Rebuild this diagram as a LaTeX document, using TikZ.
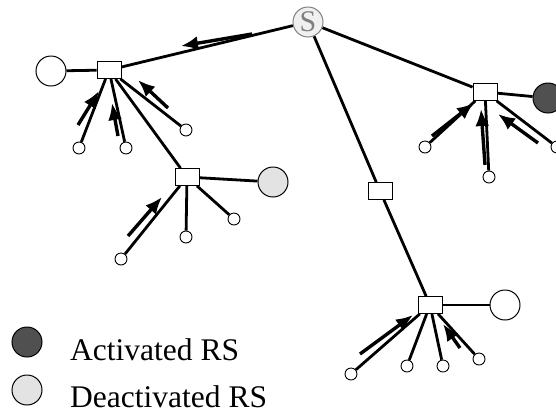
\documentclass[tikz,border=0pt]{standalone}
\usepackage{fontspec}
\setmainfont{Liberation Serif}
\usetikzlibrary{arrows.meta,backgrounds}
\definecolor{actfill}{HTML}{505050}
\definecolor{deactfill}{HTML}{E3E3E3}
\tikzset{
  relay/.style={draw, line width=0.8pt, fill=white, minimum width=24pt, minimum height=17pt, inner sep=0pt},
  rs/.style={circle, draw, line width=1pt, fill=white, minimum size=30pt, inner sep=0pt},
  leaf/.style={circle, draw, line width=0.9pt, fill=white, minimum size=12pt, inner sep=0pt},
  link/.style={line width=2.8pt},
  flow/.style={line width=3.4pt, -{Latex[length=17pt,width=14pt]}},
  legtext/.style={anchor=base west, inner sep=0pt, font=\fontsize{31.5}{31.5}\selectfont}
}
\begin{document}
\begin{tikzpicture}[x=1pt,y=-1pt]
\useasboundingbox (0,0) rectangle (556,416);
\clip (0,0) rectangle (556,416);

% source
\node[circle, draw=gray, fill=gray!12, line width=1pt, minimum size=30pt, inner sep=0pt,
      text=gray, font=\fontsize{30}{30}\selectfont] (S) at (308,22) {S};

% relay boxes
\node[relay] (A) at (109,70) {};
\node[relay] (B) at (187,177) {};
\node[relay] (C) at (485,92) {};
\node[relay] (D) at (380,191) {};
\node[relay] (E) at (430,305) {};

% relay stations
\node[rs] (rA) at (51,71) {};
\node[rs, fill=deactfill] (rB) at (273,182) {};
\node[rs, fill=actfill] (rC) at (548,98) {};
\node[rs] (rE) at (505,305) {};

% users
\node[leaf] (a1) at (79,148) {};
\node[leaf] (a2) at (126,148) {};
\node[leaf] (a3) at (186,130) {};
\node[leaf] (b1) at (121,259) {};
\node[leaf] (b2) at (186,237) {};
\node[leaf] (b3) at (234,219) {};
\node[leaf] (c1) at (425,147) {};
\node[leaf] (c2) at (489,177) {};
\node[leaf] (c3) at (557,147) {};
\node[leaf] (e1) at (351,374) {};
\node[leaf] (e2) at (407,366) {};
\node[leaf] (e3) at (443,366) {};
\node[leaf] (e4) at (479,359) {};

\begin{scope}[on background layer]
  \draw[link] (S) -- (A);
  \draw[link] (S) -- (C);
  \draw[link] (S) -- (D);
  \draw[link] (D) -- (E);
  \draw[link] (A) -- (B);
  \draw[link] (A) -- (rA);
  \draw[link] (B) -- (rB);
  \draw[link] (C) -- (rC);
  \draw[link] (E) -- (rE);
  \draw[link] (A) -- (a1);
  \draw[link] (A) -- (a2);
  \draw[link] (A) -- (a3);
  \draw[link] (B) -- (b1);
  \draw[link] (B) -- (b2);
  \draw[link] (B) -- (b3);
  \draw[link] (C) -- (c1);
  \draw[link] (C) -- (c2);
  \draw[link] (C) -- (c3);
  \draw[link] (E) -- (e1);
  \draw[link] (E) -- (e2);
  \draw[link] (E) -- (e3);
  \draw[link] (E) -- (e4);
\end{scope}

% traffic directions
\coordinate (fs0) at (252,34);  \coordinate (fs1) at (181,46);
\coordinate (fa10) at (78,125); \coordinate (fa11) at (99,91);
\coordinate (fa20) at (118,136);\coordinate (fa21) at (112,103);
\coordinate (fa30) at (168,108);\coordinate (fa31) at (138,80);
\coordinate (fb0) at (128,236); \coordinate (fb1) at (162,197);
\coordinate (fc10) at (432,136);\coordinate (fc11) at (474,103);
\coordinate (fc20) at (485,165);\coordinate (fc21) at (481,109);
\coordinate (fc30) at (538,143);\coordinate (fc31) at (498,114);
\coordinate (fe10) at (360,354);\coordinate (fe11) at (413,315);
\coordinate (fe20) at (460,348);\coordinate (fe21) at (443,324);
\draw[flow] (fs0) -- (fs1);
\draw[flow] (fa10) -- (fa11);
\draw[flow] (fa20) -- (fa21);
\draw[flow] (fa30) -- (fa31);
\draw[flow] (fb0) -- (fb1);
\draw[flow] (fc10) -- (fc11);
\draw[flow] (fc20) -- (fc21);
\draw[flow] (fc30) -- (fc31);
\draw[flow] (fe10) -- (fe11);
\draw[flow] (fe20) -- (fe21);

% legend
\node[rs, fill=actfill] (lgA) at (27,342) {};
\node[rs, fill=deactfill] (lgD) at (27,390) {};
\node[legtext] (tA) at (70,360) {Activated RS};
\node[legtext] (tD) at (70,407) {Deactivated RS};
\end{tikzpicture}
\end{document}
